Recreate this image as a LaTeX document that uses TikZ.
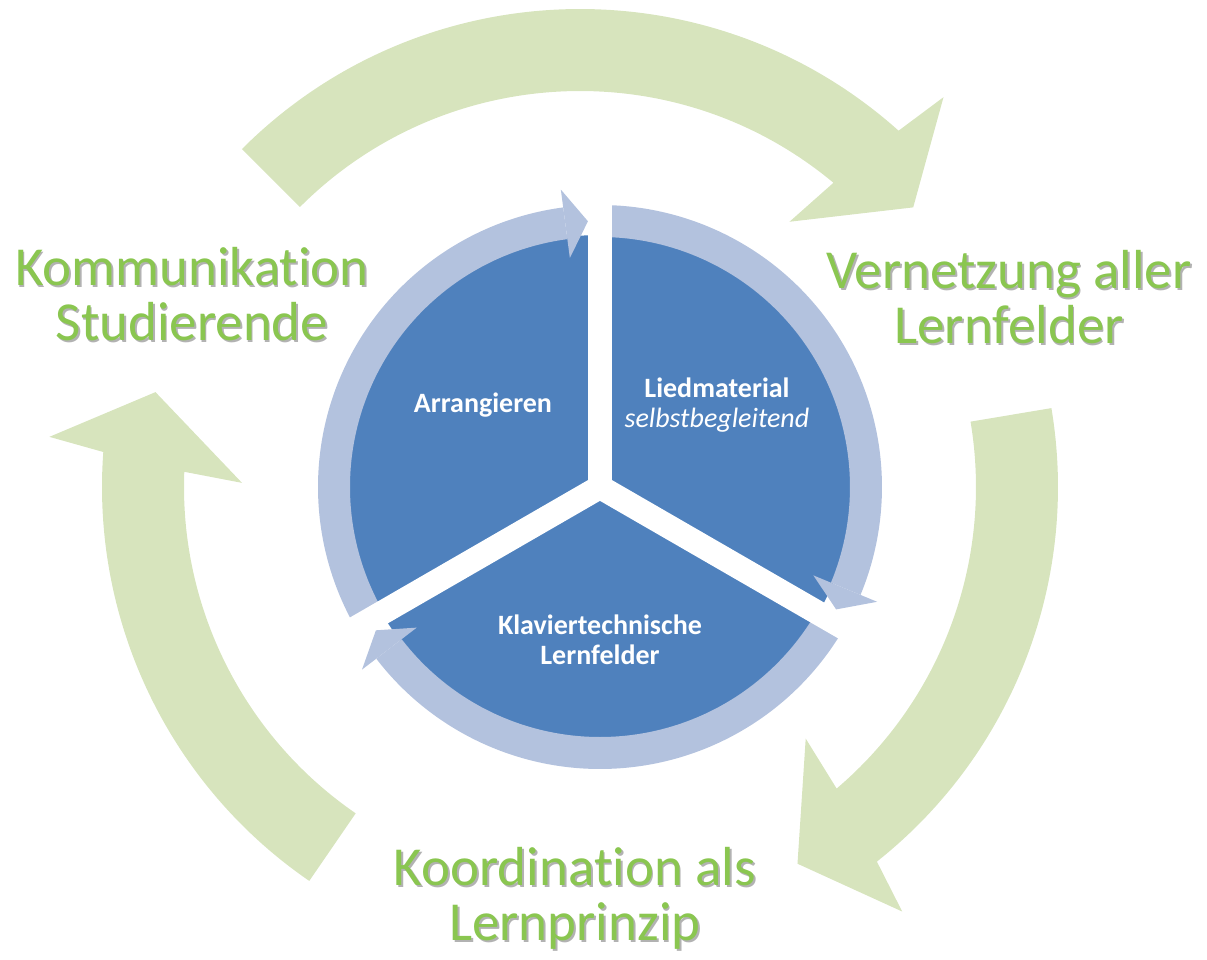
\documentclass[tikz,border=0pt]{standalone}
\usepackage{fontspec}
\setmainfont{Carlito}[Ligatures=NoCommon]

\definecolor{sectorblue}{HTML}{4F81BD}
\definecolor{ringblue}{HTML}{B3C2DE}
\definecolor{cyclegreen}{HTML}{D7E4BD}
\definecolor{labelgreen}{HTML}{8AC650}

\tikzset{
  outerlabel/.style={text=labelgreen, font=\fontsize{27.5pt}{27.5pt}\selectfont,
    align=center, anchor=base, inner sep=0pt},
  labelshadow/.style={outerlabel, text=black, opacity=0.3},
  innerlabel/.style={text=white, font=\bfseries\fontsize{14pt}{15pt}\selectfont,
    align=center, inner sep=0pt}
}

% big green arrow: #1 tail angle, #2 base of the head, #3 tip angle
\newcommand{\cyclearrow}[3]{%
  \fill[cyclegreen, shift={(-20,0)}]
    (#1:396) arc[start angle=#1, end angle={#2+1}, radius=396]
    -- ({#2+2.5}:338) -- (#3:435) -- ({#2-2.2}:533) -- ({#2-1}:478)
    arc[start angle={#2-1}, end angle=#1, radius=478] -- cycle;}

% green label with its soft shadow (placed at the baseline of its last line)
\newcommand{\outerlabel}[3]{%
  \node[labelshadow, xshift=0.9pt, yshift=-1.1pt] at (#2) {#3};
  \node[outerlabel] (#1) at (#2) {#3};}

\begin{document}
\begin{tikzpicture}[x=0.5pt,y=0.5pt]
\useasboundingbox (-600,-473) rectangle (607,487);

% outer cycle
\cyclearrow{135}{49.2}{40}
\cyclearrow{9.5}{-50.6}{-60}
\cyclearrow{235.5}{176.8}{167.4}

% the disc
\fill[sectorblue] (0,0) circle[radius=252];

% light bands round each sector
\foreach \s/\g in {210/90, 90/-30, -30/-150} {
  \fill[ringblue] (\s:250) arc[start angle=\s, end angle={\g+7.5}, radius=250]
    -- ({\g+7.5}:282) arc[start angle={\g+7.5}, end angle=\s, radius=282] -- cycle;
}

% white gaps between the sectors
\foreach \a in {90,210,330}
  \draw[white, line width=12pt] (0,0) -- (\a:300);

% heads of the bands
\foreach \g in {90,-30,-150}
  \fill[ringblue] ({\g+7.5}:231) -- ({\g+2.6}:266) -- ({\g+7.5}:300) -- cycle;

% sector texts
\node[innerlabel] (arrangieren) at (-117,82) {Arrangieren};
\node[innerlabel] (lied) at (117,82) {Liedmaterial\\\mdseries\itshape selbstbegleitend};
\node[innerlabel] (klavier) at (0,-153) {Klaviertechnische\\Lernfelder};

% labels between the green arrows
\outerlabel{komm}{-408,147}{Kommunikation\\Studierende}
\outerlabel{vernetz}{409,144}{Vernetzung aller\\Lernfelder}
\outerlabel{koord}{-25,-453}{Koordination als\\Lernprinzip}

\end{tikzpicture}
\end{document}
